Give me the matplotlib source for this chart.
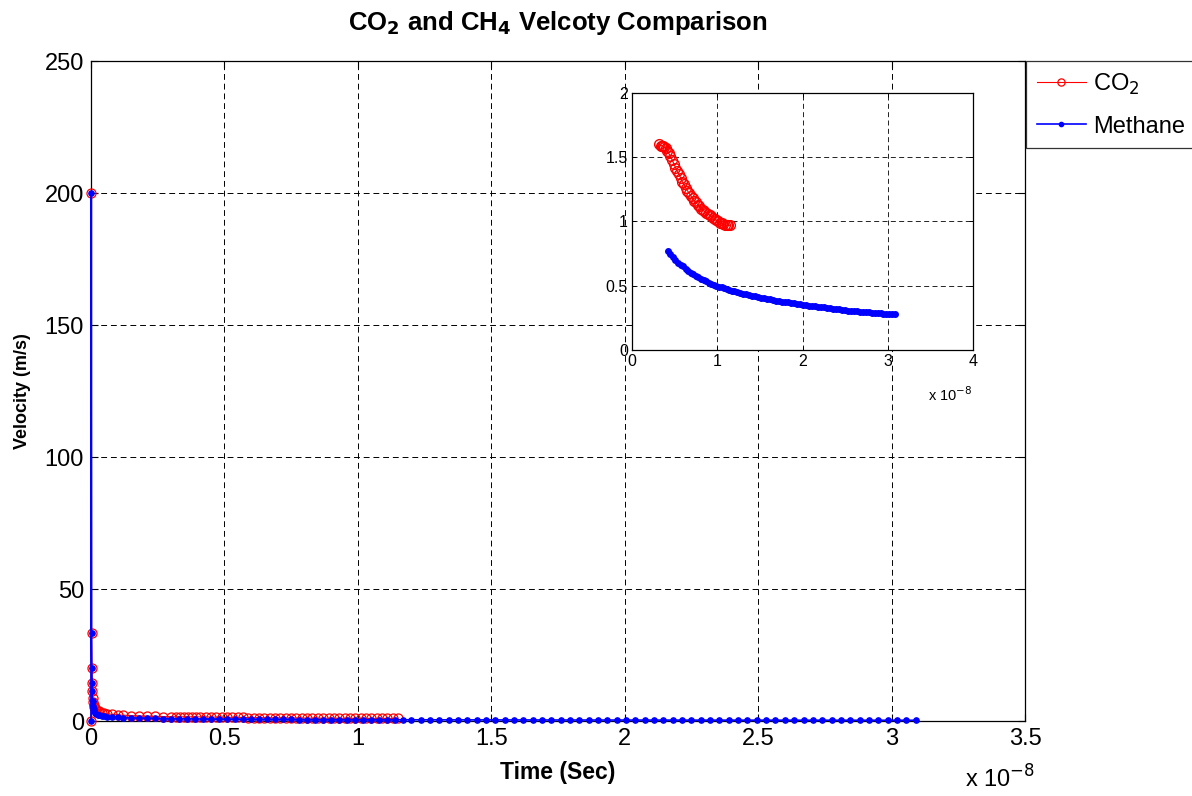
import matplotlib
matplotlib.use("Agg")
import matplotlib.pyplot as plt
from matplotlib.ticker import MultipleLocator, FormatStrFormatter

plt.rcParams['font.family'] = ['Liberation Sans', 'DejaVu Sans']

# ---- data (time in units of 1e-8 s, velocity in m/s) ----
co2_time = [0, 0.001, 0.002, 0.003, 0.004, 0.005, 0.006, 0.008, 0.010, 0.013,
            0.016, 0.02, 0.025, 0.03, 0.04, 0.05, 0.06, 0.08, 0.10, 0.12,
            0.15, 0.18, 0.21, 0.24, 0.27, 0.30,
            0.32, 0.335, 0.35, 0.365, 0.38, 0.395, 0.41, 0.43, 0.45, 0.47,
            0.49, 0.51, 0.53, 0.55, 0.57, 0.59, 0.61, 0.63, 0.65, 0.67,
            0.69, 0.71, 0.73, 0.75, 0.77, 0.79, 0.81, 0.83, 0.85, 0.87,
            0.89, 0.91, 0.93, 0.95, 0.97, 0.99, 1.01, 1.03, 1.05, 1.07,
            1.09, 1.11, 1.13, 1.15]
co2_vel = [0, 200, 33.5, 20, 14.3, 11.3, 8.8, 7.2, 6.2, 5.4,
           4.8, 4.3, 3.9, 3.6, 3.2, 2.95, 2.75, 2.5, 2.35, 2.2,
           2.05, 1.92, 1.82, 1.74, 1.68, 1.63,
           1.60, 1.59, 1.59, 1.585, 1.58, 1.57, 1.55, 1.53, 1.51, 1.48,
           1.45, 1.42, 1.39, 1.37, 1.34, 1.31, 1.29, 1.26, 1.24, 1.22,
           1.20, 1.18, 1.16, 1.15, 1.13, 1.12, 1.10, 1.09, 1.08, 1.07,
           1.06, 1.05, 1.04, 1.03, 1.02, 1.01, 1.00, 0.99, 0.985, 0.98,
           0.975, 0.97, 0.97, 0.97]

ch4_time = [0, 0.001, 0.002, 0.003, 0.004, 0.005, 0.006, 0.008, 0.010, 0.013,
            0.016, 0.02, 0.025, 0.03, 0.04, 0.05, 0.06, 0.08, 0.10, 0.12,
            0.15, 0.18, 0.21, 0.24, 0.27, 0.30, 0.33, 0.36, 0.39,
            0.42, 0.45, 0.48, 0.51, 0.54, 0.57, 0.60, 0.63, 0.66, 0.69,
            0.72, 0.75, 0.78, 0.81, 0.84, 0.87, 0.90, 0.93, 0.96, 0.99,
            1.02, 1.05, 1.08, 1.11, 1.14, 1.17, 1.20,
            1.235, 1.27, 1.305, 1.34, 1.375, 1.41, 1.445, 1.48, 1.515, 1.55,
            1.585, 1.62, 1.655, 1.69, 1.725, 1.76, 1.795, 1.83, 1.865, 1.90,
            1.935, 1.97, 2.005, 2.04, 2.075, 2.11, 2.145, 2.18, 2.215, 2.25,
            2.285, 2.32, 2.355, 2.39, 2.425, 2.46, 2.495, 2.53, 2.565, 2.60,
            2.635, 2.67, 2.705, 2.74, 2.775, 2.81, 2.845, 2.88, 2.915, 2.95,
            2.985, 3.02, 3.055, 3.09]
ch4_vel = [0, 200, 33.5, 20, 14.3, 11.3, 7.6, 5.6, 4.4, 3.6,
           3.0, 2.6, 2.3, 2.1, 1.9, 1.75, 1.65, 1.5, 1.4, 1.3,
           1.2, 1.1, 1.03, 0.97, 0.92, 0.88, 0.84, 0.81, 0.79,
           0.77, 0.745, 0.72, 0.70, 0.68, 0.665, 0.65, 0.63, 0.615, 0.60,
           0.59, 0.575, 0.565, 0.555, 0.545, 0.535, 0.525, 0.517, 0.508, 0.50,
           0.494, 0.487, 0.48, 0.474, 0.468, 0.462, 0.456,
           0.45, 0.444, 0.438, 0.432, 0.427, 0.422, 0.417, 0.412, 0.407, 0.402,
           0.397, 0.393, 0.389, 0.385, 0.381, 0.377, 0.373, 0.37, 0.366, 0.362,
           0.359, 0.355, 0.352, 0.349, 0.346, 0.343, 0.34, 0.337, 0.334, 0.331,
           0.328, 0.325, 0.322, 0.319, 0.316, 0.313, 0.31, 0.307, 0.305, 0.303,
           0.301, 0.299, 0.297, 0.295, 0.293, 0.291, 0.289, 0.287, 0.285, 0.284,
           0.283, 0.282, 0.28, 0.279]

# inset shows the later part of each series
co2_inset_start = 26
ch4_inset_start = 29

series_labels = ['CO$_2$', 'Methane']
title_text = 'CO$_\\mathbf{2}$ and CH$_\\mathbf{4}$ Velcoty Comparison'

fig = plt.figure(figsize=(11.92, 7.96), dpi=100)
ax = fig.add_axes([91/1192, 1-721/796, (1025-91)/1192, (721-61)/796])

l1, = ax.plot(co2_time, co2_vel, '-o', color='red', mfc='none', mec='red',
              ms=6.5, lw=0.8, mew=0.9, clip_on=False, zorder=3)
l2, = ax.plot(ch4_time, ch4_vel, '-o', color='blue', mfc='blue', mec='blue',
              ms=3.8, lw=1.2, clip_on=False, zorder=4)

ax.set_xlim(0, 3.5)
ax.set_ylim(0, 250)
ax.xaxis.set_major_locator(MultipleLocator(0.5))
ax.yaxis.set_major_locator(MultipleLocator(50))
ax.xaxis.set_major_formatter(FormatStrFormatter('%g'))
ax.yaxis.set_major_formatter(FormatStrFormatter('%g'))
ax.tick_params(direction='in', length=5, width=0.8, top=True, right=True,
               labelsize=17, pad=5)
ax.grid(True, color='black', linestyle=(0, (6, 4)), linewidth=0.7)
for s in ax.spines.values():
    s.set_linewidth(0.9)
ax.set_xlabel('Time (Sec)', fontsize=16.5, fontweight='bold', labelpad=8)
ax.set_ylabel('Velocity (m/s)', fontsize=13, fontweight='bold', labelpad=10)
ax.set_title(title_text, fontsize=18.5, fontweight='bold', pad=22)
fig.text(1000/1192, 1-779/796, 'x 10$^{-8}$', fontsize=17, ha='center', va='center')

leg = fig.legend([l1, l2], series_labels, loc='upper left',
                 bbox_to_anchor=(1026/1192, 1-61/796), fontsize=17,
                 frameon=True, fancybox=False, edgecolor='black',
                 handlelength=2.1, handletextpad=0.3, borderpad=0.45,
                 labelspacing=0.8, borderaxespad=0, markerscale=0.8)
leg.get_frame().set_linewidth(0.9)

# ---- inset ----
axi = fig.add_axes([632/1192, 1-350/796, (973-632)/1192, (350-93)/796])
axi.plot(co2_time[co2_inset_start:], co2_vel[co2_inset_start:], '-o', color='red',
         mfc='none', mec='red', ms=7, lw=0.8, mew=1.0)
axi.plot(ch4_time[ch4_inset_start:], ch4_vel[ch4_inset_start:], '-o', color='blue',
         mfc='blue', mec='blue', ms=4, lw=1.0)
axi.set_xlim(0, 4)
axi.set_ylim(0, 2)
axi.xaxis.set_major_locator(MultipleLocator(1))
axi.yaxis.set_major_locator(MultipleLocator(0.5))
axi.xaxis.set_major_formatter(FormatStrFormatter('%g'))
axi.yaxis.set_major_formatter(FormatStrFormatter('%g'))
axi.tick_params(direction='in', length=3, width=0.7, top=True, right=True,
                labelsize=11.5, pad=3)
axi.grid(True, color='black', linestyle=(0, (6, 4)), linewidth=0.6)
for s in axi.spines.values():
    s.set_linewidth(0.9)
fig.text(950/1192, 1-395/796, 'x 10$^{-8}$', fontsize=10.5, ha='center', va='center')

fig.savefig('out.png', dpi=100)
